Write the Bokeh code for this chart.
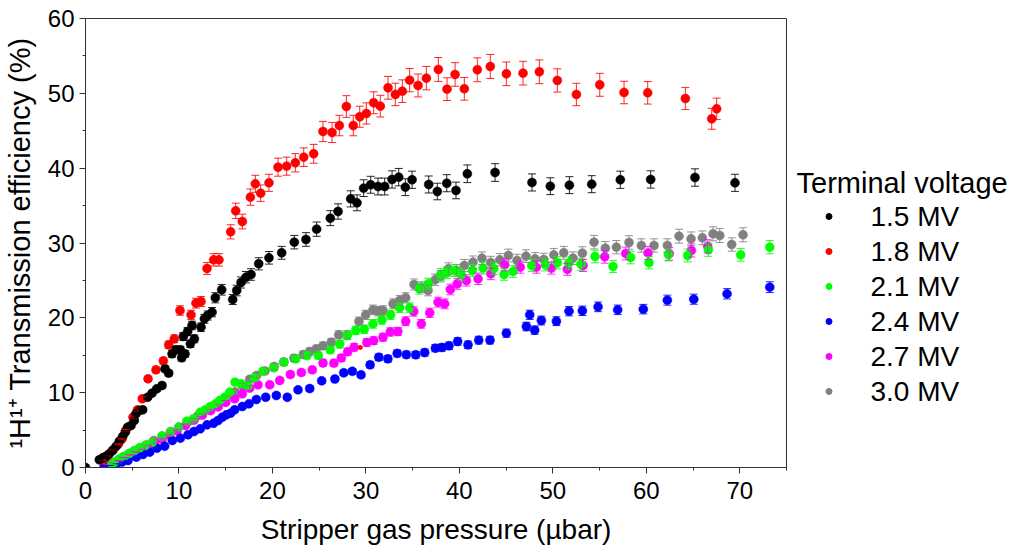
from bokeh.plotting import figure
from bokeh.models import (ColumnDataSource, Range1d, SingleIntervalTicker, Whisker, TeeHead)
from bokeh.layouts import row
from bokeh.core.properties import value
from bokeh.embed import file_html
from bokeh.resources import INLINE

FONT = "Liberation Sans"

# ---------------- data ----------------
legend_title = "Terminal voltage"
labels = ["1.5 MV", "1.8 MV", "2.1 MV", "2.4 MV", "2.7 MV", "3.0 MV"]
colors = ["#000000", "#FF0000", "#00FF00", "#0000FF", "#FF00FF", "#808080"]

x_15 = [0, 1.48, 1.84, 2.19, 2.55, 2.91, 3.26, 3.62, 3.98, 4.26, 4.51, 4.87, 5.22, 5.40, 5.76,
        6.12, 6.65, 7.12, 7.62, 8.19, 8.51, 8.90, 9.26, 9.68, 10.15, 10.29, 10.47, 10.65, 10.93,
        11.22, 11.40, 11.65, 12.36, 12.72, 13.07, 13.54, 13.89, 14.57, 15.75, 16.18, 16.64, 17.17,
        17.71, 18.53, 19.63, 20.99, 22.34, 23.59, 24.73, 26.19, 27.02, 28.37, 29.05, 29.76, 30.51,
        31.30, 32.01, 32.80, 33.51, 34.22, 34.94, 36.72, 37.64, 38.65, 39.64, 40.85, 43.82, 47.77,
        49.73, 51.77, 54.16, 57.22, 60.47, 65.21, 69.49]
y_15 = [0, 1.03, 1.29, 1.51, 1.83, 2.27, 2.81, 3.52, 4.14, 4.72, 5.39, 5.61, 6.28, 7.17, 7.62,
        7.71, 9.39, 9.93, 10.51, 10.96, 13.19, 12.61, 15.19, 15.73, 15.73, 14.66, 17.51, 15.19, 18.17,
        16.53, 18.98, 17.19, 18.75, 19.87, 20.31, 20.76, 22.68, 23.75, 22.45, 23.65, 24.72, 25.43,
        25.79, 27.22, 28.02, 28.69, 30.11, 30.47, 31.85, 33.32, 34.21, 35.90, 35.37, 37.33, 37.78,
        37.55, 37.55, 38.49, 38.80, 37.46, 38.45, 37.82, 36.88, 37.99, 37.02, 39.25, 39.42, 38.09,
        37.59, 37.73, 37.86, 38.45, 38.49, 38.75, 38.04]

x_18 = [1.8, 2.3, 2.9, 3.5, 3.9, 4.30, 5.08, 5.55, 6.08, 6.69, 7.54, 8.33, 8.90, 9.50, 10.11,
        11.29, 11.82, 12.36, 13.0, 13.71, 14.28, 15.53, 16.07, 16.78, 17.64, 18.17, 18.74, 19.63,
        20.60, 21.52, 22.45, 23.35, 24.41, 25.41, 26.38, 27.16, 27.91, 28.65, 29.34, 30.05, 30.83,
        31.54, 32.37, 33.15, 33.90, 34.68, 35.58, 36.47, 37.75, 38.68, 39.54, 40.53, 41.92, 43.31,
        45.03, 46.81, 48.56, 50.48, 52.52, 55.02, 57.62, 60.15, 64.18, 67.0, 67.53]
y_18 = [1.0, 1.5, 2.3, 3.1, 3.8, 4.94, 6.72, 7.70, 9.18, 11.85, 13.05, 14.25, 16.39, 17.19, 20.98,
        20.40, 21.96, 22.18, 26.60, 27.75, 27.75, 31.49, 34.30, 32.87, 36.13, 37.91, 36.66, 38.04,
        40.13, 40.27, 40.72, 41.47, 41.92, 44.90, 44.77, 45.70, 48.24, 45.70, 46.87, 47.31, 48.74,
        48.29, 50.74, 49.85, 50.29, 51.76, 51.05, 52.03, 53.19, 50.56, 52.52, 50.61, 53.15, 53.59,
        52.61, 52.70, 52.88, 51.72, 49.85, 51.14, 50.11, 50.07, 49.31, 46.60, 47.93]

x_21 = [2.8, 3.12, 3.66, 4.19, 4.73, 5.26, 5.80, 6.40, 7.15, 8.19, 9.08, 9.97, 10.83, 11.54, 12.28,
        12.82, 13.36, 13.93, 14.36, 14.89, 15.43, 16.0, 16.67, 17.39, 18.10, 18.99, 20.14, 21.24,
        22.49, 23.70, 24.91, 26.19, 27.20, 28.01, 28.91, 29.83, 30.76, 31.72, 32.65, 33.62, 34.69,
        35.72, 36.68, 38.00, 38.68, 39.50, 40.21, 41.39, 42.53, 43.68, 44.78, 45.74, 47.74, 49.20,
        50.48, 51.70, 53.02, 54.52, 56.44, 58.33, 60.29, 62.36, 64.43, 66.64, 70.10, 73.21]
y_21 = [0.45, 0.71, 1.16, 1.51, 1.91, 2.27, 2.63, 2.94, 3.38, 4.18, 4.72, 5.39, 6.19, 6.51, 7.39,
        7.71, 8.15, 8.51, 8.95, 9.39, 10.06, 11.40, 11.18, 10.96, 11.98, 12.87, 13.32, 14.07,
        14.53, 14.97, 14.97, 15.73, 16.48, 17.64, 18.31, 18.48, 19.20, 19.74, 20.40, 21.34, 21.34,
        23.88, 24.55, 25.79, 26.02, 26.33, 25.79, 26.33, 26.64, 26.59, 25.79, 26.19, 26.99, 27.09,
        27.36, 27.30, 27.17, 28.20, 26.86, 28.06, 27.36, 28.46, 28.33, 29.09, 28.42, 29.44]

x_24 = [2.0, 2.6, 3.30, 3.9, 4.55, 5.44, 6.15, 6.87, 7.65, 8.47, 9.29, 10.15, 10.97, 11.61, 12.28,
        13.0, 13.71, 14.18, 14.64, 15.07, 15.53, 15.96, 16.78, 17.49, 18.28, 19.28, 20.42, 21.59,
        22.74, 23.99, 25.27, 26.68, 27.63, 28.55, 29.48, 30.45, 31.38, 32.35, 33.35, 34.33, 35.33,
        36.29, 37.43, 38.14, 38.89, 39.82, 40.93, 42.07, 43.28, 45.03, 47.17, 47.53, 48.06, 48.77,
        50.38, 51.73, 53.16, 54.84, 56.94, 59.68, 62.25, 65.08, 68.64, 73.21]
y_24 = [0.1, 0.3, 0.49, 0.72, 0.94, 1.38, 1.74, 2.05, 2.58, 2.85, 3.61, 3.92, 4.37, 4.81, 5.17,
        5.70, 5.92, 6.28, 6.72, 7.04, 7.26, 7.71, 8.15, 8.51, 9.09, 9.39, 9.62, 9.39, 10.38, 10.55,
        11.58, 11.83, 12.65, 12.85, 12.38, 13.72, 14.74, 14.52, 15.25, 15.08, 15.06, 15.36, 15.95,
        16.04, 16.26, 16.84, 16.39, 17.02, 17.02, 17.95, 18.84, 20.40, 18.35, 19.64, 19.55, 20.89,
        20.94, 21.47, 21.07, 21.16, 22.36, 22.49, 23.21, 24.10]

x_27 = [2.0, 2.5, 3.0, 3.6, 4.2, 4.8, 5.4, 6.0, 6.7, 7.4, 8.2, 9.0, 9.8, 10.7, 11.6, 12.5, 13.4,
        14.2, 15.0, 15.96, 16.78, 17.57, 18.46, 19.71, 20.78, 21.92, 23.09, 24.27, 25.41, 26.57,
        27.37, 28.05, 28.75, 30.10, 30.83, 31.83, 32.61, 33.42, 34.26, 35.12, 35.93, 36.83, 37.72,
        38.43, 39.03, 39.78, 40.75, 42.0, 43.36, 44.85, 46.52, 48.24, 49.84, 51.55, 53.23, 55.55,
        57.80, 60.19, 62.45, 64.82, 66.57]
y_27 = [0.1, 0.35, 0.6, 0.9, 1.3, 1.7, 2.1, 2.5, 2.9, 3.3, 3.8, 4.3, 4.9, 5.6, 6.3, 7.0, 7.6, 8.1,
        8.7, 9.18, 9.84, 10.60, 11.05, 11.05, 11.63, 12.43, 12.70, 13.05, 13.97, 13.94, 14.63,
        15.47, 16.06, 16.70, 16.95, 17.41, 18.12, 18.17, 19.55, 20.85, 19.20, 20.67, 22.09, 21.87,
        23.79, 24.55, 24.99, 25.22, 25.88, 27.09, 26.77, 26.77, 26.64, 26.48, 27.0, 28.15, 28.6,
        28.67, 28.56, 29.0, 29.55]

x_30 = [2.5, 3.0, 3.5, 4.0, 4.6, 5.2, 5.8, 6.5, 7.3, 8.2, 9.1, 10.0, 11.0, 12.0, 13.0, 14.0, 15.0,
        16.0, 16.8, 17.57, 18.3, 19.2, 20.2, 21.2, 22.3, 23.3, 23.99, 24.70, 25.41, 26.30, 27.09,
        27.98, 29.26, 29.98, 30.76, 31.30, 31.83, 32.90, 33.62, 34.26, 35.15, 35.93, 36.65, 37.40,
        38.04, 38.82, 39.68, 40.53, 41.46, 42.42, 43.36, 44.32, 45.24, 46.17, 47.13, 48.10, 49.03,
        50.10, 51.17, 52.16, 53.16, 54.41, 55.62, 56.80, 58.15, 59.47, 60.83, 62.25, 63.50, 64.79,
        66.0, 67.14, 67.86, 69.14, 70.35]
y_30 = [0.4, 0.7, 1.0, 1.4, 1.8, 2.2, 2.6, 3.0, 3.6, 4.2, 4.8, 5.4, 6.1, 6.9, 7.7, 8.5, 9.3, 10.1,
        10.9, 11.8, 12.3, 12.9, 13.5, 14.1, 14.6, 15.1, 15.50, 15.86, 16.26, 16.75, 17.73, 17.73,
        19.51, 20.40, 21.07, 20.89, 20.98, 21.88, 22.32, 22.68, 24.46, 24.10, 23.65, 25.08, 25.57,
        26.55, 26.33, 26.99, 27.44, 27.97, 27.40, 27.75, 28.33, 27.66, 28.24, 27.88, 27.80, 28.42,
        28.69, 27.97, 28.64, 30.11, 29.31, 29.44, 30.07, 29.67, 29.67, 29.67, 30.91, 30.56, 30.69,
        31.23, 31.00, 29.80, 31.10]

# small stray red mark visible in the reference
stray_x = [29.4]
stray_y = [16.04]

rel_err = 0.03  # relative uncertainty shown by the error bars

xs = [x_15, x_18, x_21, x_24, x_27, x_30]
ys = [y_15, y_18, y_21, y_24, y_27, y_30]

# ---------------- main figure ----------------
FRAME_TOP, FRAME_H = 18, 449
p = figure(frame_width=701, frame_height=FRAME_H,
           x_range=Range1d(0, 75), y_range=Range1d(0, 60),
           output_backend="svg", toolbar_location=None,
           min_border_left=83, min_border_top=FRAME_TOP, min_border_right=8, min_border_bottom=82)
p.background_fill_color = "white"
p.border_fill_color = "white"
p.outline_line_color = "#333333"
p.outline_line_width = 1
p.xgrid.visible = False
p.ygrid.visible = False

p.xaxis.ticker = SingleIntervalTicker(interval=10, num_minor_ticks=2)
p.yaxis.ticker = SingleIntervalTicker(interval=10, num_minor_ticks=2)
for ax in (p.xaxis[0], p.yaxis[0]):
    ax.axis_line_color = "#333333"
    ax.major_tick_line_color = "#333333"
    ax.minor_tick_line_color = "#333333"
    ax.major_tick_in = 0
    ax.major_tick_out = 6
    ax.minor_tick_in = 0
    ax.minor_tick_out = 3
    ax.major_label_text_font = FONT
    ax.major_label_text_font_size = "24px"
    ax.major_label_text_color = "black"
    ax.axis_label_text_font = FONT
    ax.axis_label_text_font_style = "normal"
    ax.axis_label_text_color = "black"
p.xaxis.axis_label = "Stripper gas pressure (\u00b5bar)"
p.yaxis.axis_label = "\u00b9H\u00b9\u207a Transmission efficiency (%)"
p.xaxis.axis_label_text_font_size = "28px"
p.yaxis.axis_label_text_font_size = "29px"
p.xaxis.major_label_standoff = 8
p.yaxis.major_label_standoff = 5
p.xaxis.axis_label_standoff = 12
p.yaxis.axis_label_standoff = 9

order = [5, 4, 3, 2, 1, 0]  # gray drawn first, black last
for i in order:
    src = ColumnDataSource(dict(
        x=xs[i], y=ys[i],
        lo=[v * (1 - rel_err) for v in ys[i]],
        hi=[v * (1 + rel_err) for v in ys[i]]))
    w = Whisker(source=src, base="x", lower="lo", upper="hi", dimension="height",
                line_color=colors[i], line_width=1, line_alpha=0.85, level="glyph",
                upper_head=TeeHead(size=8, line_color=colors[i], line_width=1, line_alpha=0.85),
                lower_head=TeeHead(size=8, line_color=colors[i], line_width=1, line_alpha=0.85))
    p.add_layout(w)
    p.scatter("x", "y", source=src, size=9, marker="circle",
              fill_color=colors[i], line_color=colors[i], line_width=0.5)

p.scatter(stray_x, stray_y, size=4, marker="circle", fill_color="#FF0000", line_color="#FF0000")

# ---------------- legend panel (screen-pixel coordinates) ----------------
# In a row the panel's frame is aligned with the main frame (screen y 18..467)
PANEL_X0, PANEL_W = 792, 218
TITLE_X, TITLE_Y = 794, 182
DOT_X, TEXT_X, ROW_Y0, ROW_DY = 826.5, 868, 216, 35

lg = figure(width=PANEL_W, height=549,
            x_range=Range1d(PANEL_X0, PANEL_X0 + PANEL_W),
            y_range=Range1d(FRAME_TOP + FRAME_H, FRAME_TOP),
            x_axis_type=None, y_axis_type=None, output_backend="svg",
            toolbar_location=None, min_border=0)
lg.outline_line_color = None
lg.background_fill_color = "white"
lg.border_fill_color = "white"

rows_y = [ROW_Y0 + k * ROW_DY for k in range(len(labels))]
lg.text(x=[TITLE_X], y=[TITLE_Y], text=[legend_title], text_font=value(FONT),
        text_font_size="29px", text_baseline="middle", text_align="left", text_color="black")
lg.scatter(x=[DOT_X] * len(labels), y=rows_y, size=6, marker="circle",
           fill_color=colors, line_color=colors)
lg.text(x=[TEXT_X] * len(labels), y=rows_y, text=labels, text_font=value(FONT),
        text_font_size="28px", text_baseline="middle", text_align="left", text_color="black")

layout = row(p, lg)
open("out.html", "w").write(file_html(layout, INLINE))
